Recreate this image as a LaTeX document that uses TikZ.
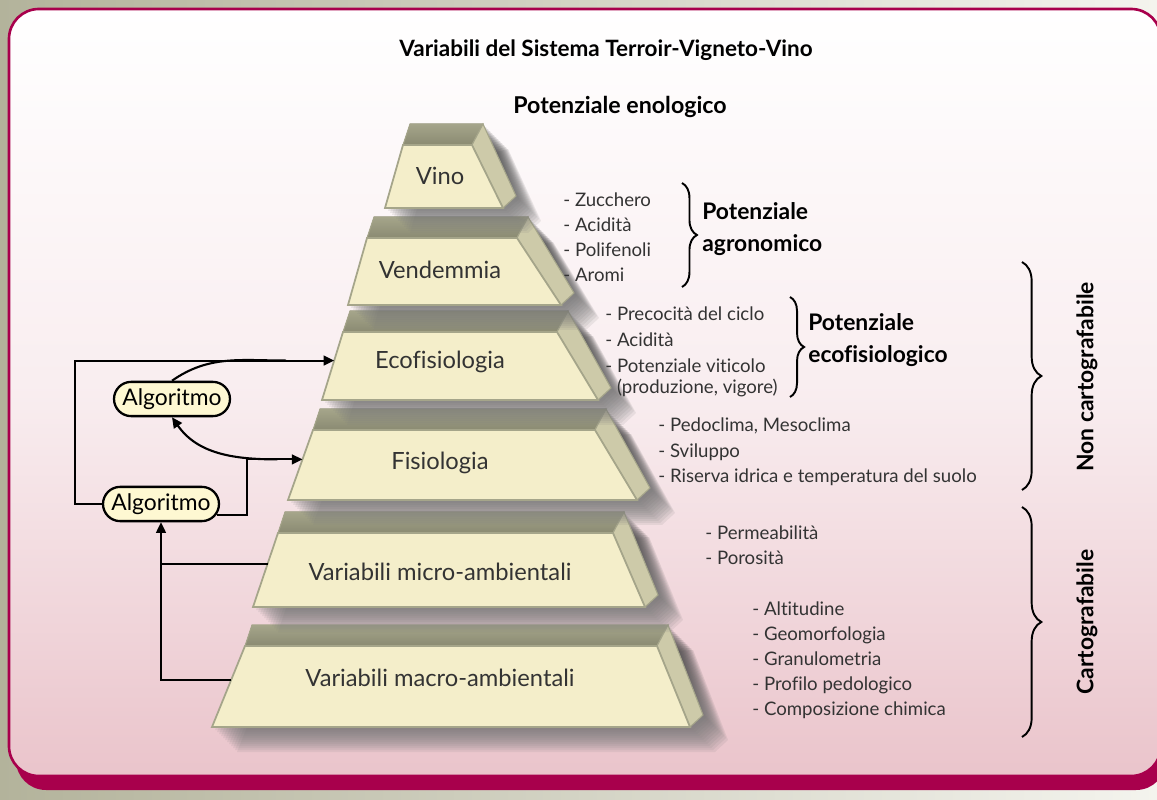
\documentclass[tikz,border=0pt]{standalone}
\usepackage{fontspec}
\setmainfont{Lato}[Ligatures=NoCommon]
\usetikzlibrary{calc,arrows.meta,shapes.misc,decorations.pathreplacing}

\definecolor{crimson}{HTML}{A8004C}
\definecolor{pinkbg}{HTML}{EAC4CB}
\definecolor{bgleft}{HTML}{B3B39B}
\definecolor{bgright}{HTML}{F4F4EE}
\definecolor{cream}{HTML}{F4EECA}
\definecolor{olive}{HTML}{A5A58A}
\definecolor{olivedark}{HTML}{8A8A72}
\definecolor{sidecol}{HTML}{CDCAA9}
\definecolor{algofill}{HTML}{FEF8D2}
\definecolor{shade}{HTML}{4E3F4A}

% name, text, TLx, TRx, BLx, BRx, ytop, ybot, text y
\newcommand{\slab}[9]{%
  \coordinate (#1-tl) at (#3,#7);
  \coordinate (#1-tr) at (#4,#7);
  \coordinate (#1-bl) at (#5,#8);
  \coordinate (#1-br) at (#6,#8);
  \foreach \s in {3,5,...,25}
    \fill[shade,opacity=.065] ($(#1-tl)+(\s,\s)$) -- ($(#1-tr)+(11+\s,-21+\s)$)
      -- ($(#1-br)+(13+\s,-12+\s)$) -- ($(#1-br)+(\s,\s)$) -- ($(#1-bl)+(\s,\s)$) -- cycle;
  \filldraw[slabtop] (#1-tl) -- ($(#1-tl)+(7,-21)$) -- ($(#1-tr)+(11,-21)$) -- (#1-tr) -- cycle;
  \filldraw[slabside] (#1-tr) -- ($(#1-tr)+(11,-21)$) -- ($(#1-br)+(13,-12)$) -- (#1-br) -- cycle;
  \filldraw[slabfront] (#1-tl) -- (#1-tr) -- (#1-br) -- (#1-bl) -- cycle;
  \coordinate (#1-w) at ($(#1-tl)!.42!(#1-bl)$);
  \node[slabtext] (#1) at (440,#9) {#2};
}

\begin{document}
\begin{tikzpicture}[x=0.02cm,y=-0.02cm,
  slabfront/.style={fill=cream,draw=olive,line width=1pt},
  slabtop/.style={top color=olive,bottom color=olivedark,draw=olive,line width=.6pt},
  slabside/.style={fill=sidecol,draw=olive,line width=.6pt},
  slabtext/.style={font=\fontsize{13.5}{15}\selectfont,text=black!80},
  listtext/.style={font=\fontsize{10.6}{14.2}\selectfont,text=black!80,align=left,anchor=west,inner sep=0pt},
  potlabel/.style={font=\bfseries\fontsize{13}{18}\selectfont,align=left,anchor=west,inner sep=0pt},
  sidelabel/.style={font=\bfseries\fontsize{13}{15}\selectfont,rotate=90},
  curly/.style={decorate,decoration={brace,amplitude=#1},line width=1.1pt},
  algo/.style={rounded rectangle,draw,line width=1.3pt,fill=algofill,font=\fontsize{13}{15}\selectfont,minimum height=19.5pt,inner xsep=4pt},
  wire/.style={line width=1.2pt},
  link/.style={wire,-{Triangle[length=6pt,width=5.5pt]}}]

\useasboundingbox (0,0) rectangle (1157,800);
\clip (0,0) rectangle (1157,800);
\fill[left color=bgleft,right color=bgright] (0,0) rectangle (1157,800);
\fill[crimson,rounded corners=17pt] (16,22) rectangle (1166,790);
\draw[crimson,line width=1.5pt,top color=white,bottom color=pinkbg,middle color=pinkbg!30!white,rounded corners=17pt] (9,9) rectangle (1161,776);

\node[font=\bfseries\fontsize{12.8}{14}\selectfont] (title) at (606,50) {Variabili del Sistema Terroir-Vigneto-Vino};
\node[font=\bfseries\fontsize{13.2}{14}\selectfont] (enol) at (620,107) {Potenziale enologico};

\slab{macro}{Variabili macro-ambientali}{245}{657}{212}{690}{646}{727}{678}
\slab{micro}{Variabili micro-ambientali}{278}{613}{253}{645}{533}{607}{572}
\slab{fisio}{Fisiologia}{313}{595}{288}{637}{430}{500}{463}
\slab{eco}{Ecofisiologia}{343}{557}{322}{598}{332}{400}{362}
\slab{vend}{Vendemmia}{367}{517}{348}{561}{238}{305}{270}
\slab{vino}{Vino}{403}{472}{385}{503}{145}{208}{176}

\node[listtext] (agrolist) at (563,237) {- Zucchero\\- Acidità\\- Polifenoli\\- Aromi};
\node[listtext,font=\fontsize{10.6}{14.8}\selectfont] (ecolist) at (605,352) {- Precocità del ciclo\\- Acidità\\- Potenziale viticolo\\[-2.8pt]\phantom{- }(produzione, vigore)};
\node[listtext,font=\fontsize{10.6}{14.5}\selectfont] (fisiolist) at (658,452) {- Pedoclima, Mesoclima\\- Sviluppo\\- Riserva idrica e temperatura del suolo};
\node[listtext] (microlist) at (705,545) {- Permeabilità\\- Porosità};
\node[listtext] (macrolist) at (752,660) {- Altitudine\\- Geomorfologia\\- Granulometria\\- Profilo pedologico\\- Composizione chimica};

\draw[curly=8.5pt] (682,183) -- (682,287);
\node[potlabel] (agro) at (702,229) {Potenziale\\agronomico};
\draw[curly=8pt] (790,297) -- (790,397);
\node[potlabel] (ecopot) at (808,340) {Potenziale\\ecofisiologico};
\draw[curly=11pt] (1022,262) -- (1022,490);
\node[sidelabel] (noncarto) at (1087,377) {Non cartografabile};
\draw[curly=11pt] (1022,507) -- (1022,737);
\node[sidelabel] (carto) at (1087,622) {Cartografabile};

\node[algo,minimum width=74pt] (alg1) at (172,399) {Algoritmo};
\node[algo,minimum width=74pt] (alg2) at (161,504) {Algoritmo};

\draw[link] (alg2.west) -- ++(-27,0) |- (eco-w);
\draw[wire] (alg1.north) to[out=35,in=180] ($(eco-w)+(-48,0)$);
\draw[link] ($(alg2.east)+(-3,11)$) -- ++(30,0) |- (fisio-w);
\draw[link] ($(fisio-w)+(-25,0)$) to[out=180,in=-55] (alg1.south);
\draw[link] (macro-w) -| (alg2.south);
\draw[wire] (micro-w) -- (micro-w -| alg2.south);
\end{tikzpicture}
\end{document}
